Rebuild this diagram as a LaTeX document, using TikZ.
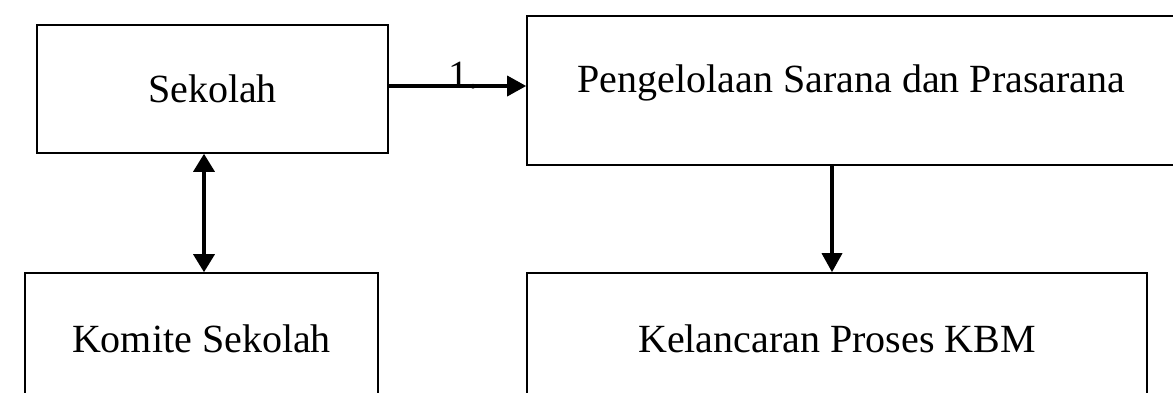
\documentclass[tikz,border=0pt]{standalone}
\usepackage{fontspec}
\setmainfont{Liberation Serif}
\usetikzlibrary{arrows.meta}

\begin{document}
\begin{tikzpicture}[x=1pt,y=-1pt,
  box/.style={draw,line width=1.6pt,font=\fontsize{40}{47}\selectfont},
  link/.style={line width=3.5pt,-{Triangle[length=19pt,width=20pt]}}]
  \useasboundingbox (0,0) rectangle (1173,392);
  \node[box,minimum width=351pt,minimum height=128pt] (sek) at (212.5,89) {Sekolah};
  \node[box,minimum width=649pt,minimum height=149pt,text depth=23pt] (peng) at (851.5,90.5) {Pengelolaan Sarana dan Prasarana};
  \node[box,minimum width=353pt,minimum height=132pt] (kom) at (201.5,339) {Komite Sekolah};
  \node[box,minimum width=620pt,minimum height=132pt] (kel) at (837,339) {Kelancaran Proses KBM};

  \draw[link] ([yshift=3pt]sek.east) -- ([yshift=3pt]sek.east -| peng.west)
    node[midway,anchor=base,xshift=6pt,yshift=-2pt,font=\fontsize{40}{47}\selectfont] (num) {1.};
  \draw[link,{Triangle[length=18pt,width=21pt]}-{Triangle[length=18pt,width=21pt]}]
    ([xshift=2.5pt]kom.north |- sek.south) -- ([xshift=2.5pt]kom.north);
  \draw[link] ([xshift=-5pt]kel.north |- peng.south) -- ([xshift=-5pt]kel.north);
\end{tikzpicture}
\end{document}
